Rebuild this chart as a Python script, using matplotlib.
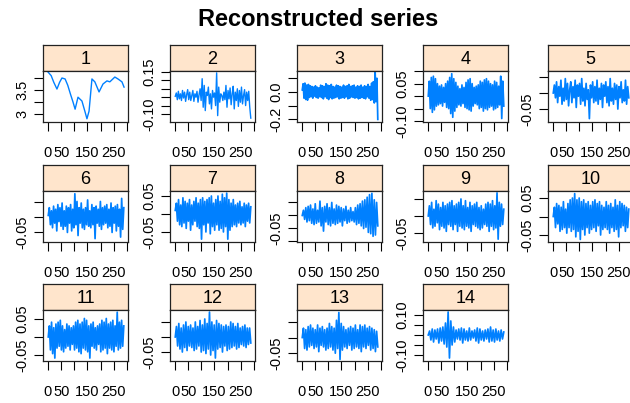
import numpy as np
import matplotlib.pyplot as plt

plt.rcParams['font.family'] = ['Liberation Sans', 'DejaVu Sans']

# component 1 (trend)
t1 = [0, 12, 22, 34, 44, 53, 65, 75, 85, 95, 103, 114, 129, 141, 148, 156, 167, 178, 194, 209, 224, 235, 254, 266, 281, 289]
s1 = [3.875, 3.80, 3.66, 3.52, 3.66, 3.75, 3.73, 3.60, 3.42, 3.25, 3.10, 3.35, 3.27, 3.04, 2.90, 3.06, 3.73, 3.67, 3.46, 3.625, 3.69, 3.67, 3.77, 3.73, 3.67, 3.56]

# components 2..14, values in thousandths
s2 = [5, 25, -15, 35, -10, 20, -20, 40, -5, 30, -25, 15, 45, -15, 30, -20, 10, 40, -25, 20, 0, 35, -30, 15, 50, -20, 110, -60, 70, -80, 30, 10, 60, -40, 20, -70, 40, 0, 25, -50, 145, -110, 60, -30, 20, 10, -20, 30, -15, 70, -60, 40, -10, 55, -45, 20, 65, -70, 30, -20, 50, -55, 40, -30, 60, -40, 10, 45, -50, 30, -20, 35, -60, -125]
s3 = [15, 60, -45, 65, -55, 50, -60, 55, -40, 45, -35, 40, -45, 35, -30, 45, -40, 35, -45, 30, -35, 50, -40, 45, -50, 40, -35, 60, -45, 50, -55, 45, -40, 55, -50, 40, -45, 35, -40, 50, -35, 45, -50, 40, -45, 35, -40, 50, -45, 40, -35, 45, -50, 55, -45, 40, -35, 45, -40, 50, -45, 35, -40, 45, -50, 40, -45, 50, -40, 35, -45, 45, -50, 40, -35, 55, -45, 40, -60, 65, -55, 75, -80, 146, -70, 100, -200]
s4 = [0, 60, -50, 75, -65, 80, -55, 70, -40, 50, -35, 40, -30, 45, -40, 35, -25, 50, -45, 60, -50, 75, -70, 90, -85, 70, -60, 55, -45, 40, -35, 30, -40, 45, -30, 35, -45, 55, -50, 65, -55, 70, -60, 50, -40, 35, -30, 40, -35, 45, -50, 60, -45, 55, -60, 65, -50, 70, -55, 60, -45, 50, -40, 45, -55, 60, -50, 55, -45, 40, -35, 80, -90, 60, -40]
s5 = [0, 25, -15, 35, -30, 20, -10, 40, -35, 15, -25, 45, -20, 30, -40, 10, 35, -30, 20, -15, 40, -45, 25, -10, 30, -35, 45, -25, 15, -40, 30, -20, 10, -80, 25, -15, 35, -30, 20, -25, 40, -35, 15, -20, 30, -45, 25, -10, 35, -30, 20, -40, 45, -25, 15, -35, 30, -20, 25, -50, 20, -15, 35, -30, 10, -25, 40, -35, 20, -15]
s6 = [5, 30, -25, 20, -35, 35, -20, 25, -45, 40, -15, 30, -30, 45, -40, 20, -30, 35, -50, 30, -20, 40, -45, 25, -35, 75, -25, 50, -60, 30, -20, 45, -35, 25, -40, 30, -25, 55, -30, 20, -35, 40, -25, 30, -70, 35, -20, 25, -30, 50, -40, 30, -25, 35, -20, 40, -35, 25, -30, 45, -50, 30, -20, 35, -45, 40, -30, 25, -65, 60, -40, 30]
s7 = [10, 30, -20, 40, -30, 25, -35, 45, -25, 35, -40, 30, -20, 40, -45, 25, -30, 35, -20, 45, -35, 30, -40, 40, -70, 45, -30, 35, -50, 40, -25, 45, -55, 50, -35, 30, -45, 40, -30, 50, -45, 35, -40, 55, -50, 45, -35, 58, -70, 40, -45, 30, -35, 40, -30, 25, -35, 30, -25, 35, -30, 20, -25, 30, -35, 25, -20, 30, -25, 20]
s8 = [0, 20, -15, 30, -25, 35, -20, 40, -30, 25, -35, 45, -30, 20, -25, 55, -40, 30, -60, 35, -25, 45, -35, 30, -40, 50, -30, 25, -35, 40, -30, 35, -25, 30, -40, 25, -20, 35, -30, 20, -25, 30, -20, 15, -25, 30, -35, 40, -30, 45, -40, 55, -50, 60, -45, 70, -65, 80, -70, 85, -80, 60, -75, 50, -40]
s9 = [0, 30, -25, 40, -35, 20, -30, 45, -20, 35, -40, 25, -30, 40, -35, 30, -45, 35, -25, 40, -30, 45, -40, 30, -25, 35, -45, 40, -30, 50, -35, 30, -40, 45, -30, 25, -35, 40, -45, 30, -25, 35, -30, 40, -35, 25, -40, 30, -35, 20, -25, 35, -30, 40, -45, 35, -30, 45, -40, 30, -35, 68, -68, 40, -30, 35, -25, 20]
s10 = [0, 25, -30, 35, -20, 30, -40, 25, -35, 40, -30, 20, -45, 35, -30, 45, -40, 50, -35, 62, -55, 45, -40, 50, -62, 40, -35, 45, -50, 35, -30, 40, -45, 30, -35, 40, -30, 45, -40, 35, -25, 40, -50, 30, -35, 25, -30, 40, -35, 30, -45, 35, -30, 25, -40, 45, -35, 30, -55, 40, -30, 35, -25, 30, -40, 25, -30, 20]
s11 = [0, 30, -35, 40, -45, 25, -57, 35, -30, 40, -25, 45, -35, 30, -40, 20, -30, 35, -25, 30, -35, 25, -20, 30, -35, 40, -30, 45, -40, 35, -45, 40, -30, 50, -35, 45, -40, 30, -57, 35, -25, 40, -30, 25, -35, 30, -20, 35, -40, 45, -35, 40, -30, 50, -45, 35, -30, 40, -35, 45, -40, 30, -25, 67, -35, 40, -30, 45, -25, 30]
s12 = [0, 35, -30, 45, -40, 30, -50, 40, -35, 50, -45, 35, -30, 40, -35, 30, -45, 50, -40, 35, -30, 55, -50, 40, -45, 60, -55, 45, -40, 83, -60, 50, -45, 40, -70, 55, -40, 45, -35, 40, -50, 35, -30, 40, -45, 35, -40, 50, -35, 45, -30, 35, -40, 45, -35, 30, -25, 35, -30, 40, -35, 30, -25, 30, -20]
s13 = [0, 30, -35, 25, -40, 35, -30, 40, -25, 30, -35, 25, -30, 40, -45, 30, -25, 35, -30, 25, -40, 30, -35, 45, -30, 35, -40, 30, -50, 55, -35, 80, -70, 45, -40, 35, -30, 25, -35, 30, -25, 35, -40, 30, -35, 40, -30, 25, -35, 40, -45, 35, -30, 40, -35, 30, -25, 35, -40, 30, -35, 25, -45, 20, -30]
s14 = [0, 20, -25, 30, -35, 25, -20, 30, -40, 35, -30, 40, -45, 60, -60, 115, -115, 70, -50, 40, -35, 25, -20, 30, -25, 35, -40, 30, -25, 20, -30, 35, -25, 20, -15, 25, -30, 35, -40, 30, -25, 20, -30, 25, -20, 30, -35, 40, -30, 25, -35, 30, -25, 20, -30, 25, -20, 15]

noisy = [s2, s3, s4, s5, s6, s7, s8, s9, s10, s11, s12, s13, s14]

# y axis of each panel: limits, ticks, shown labels
ylims = [(2.833, 3.896), (-0.148, 0.156), (-0.219, 0.153), (-0.104, 0.101), (-0.0906, 0.0688),
         (-0.081, 0.084), (-0.078, 0.064), (-0.102, 0.094), (-0.0764, 0.0735), (-0.069, 0.069),
         (-0.065, 0.073), (-0.080, 0.090), (-0.075, 0.088), (-0.130, 0.125)]
yticks = [[3.0, 3.25, 3.5, 3.75], [-0.10, -0.05, 0, 0.05, 0.10, 0.15], [-0.2, -0.1, 0.0, 0.1],
          [-0.10, -0.05, 0, 0.05, 0.10], [-0.05, 0, 0.05],
          [-0.05, 0, 0.05], [-0.05, 0, 0.05], [-0.10, -0.05, 0, 0.05], [-0.05, 0, 0.05], [-0.05, 0, 0.05],
          [-0.05, 0, 0.05], [-0.05, 0, 0.05], [-0.05, 0, 0.05], [-0.10, -0.05, 0, 0.05, 0.10]]
ylabels = [['3', '', '3.5', ''], ['-0.10', '', '', '', '', '0.15'], ['-0.2', '', '0.0', ''],
           ['-0.10', '', '', '0.05', ''], ['-0.05', '', ''],
           ['-0.05', '', ''], ['-0.05', '', '0.05'], ['', '-0.05', '', ''], ['-0.05', '', ''], ['-0.05', '', '0.05'],
           ['-0.05', '', '0.05'], ['-0.05', '', ''], ['-0.05', '', ''], ['-0.10', '', '', '', '0.10']]
xticks = [0, 50, 100, 150, 200, 250, 300]
xlabels = ['0', '50', '', '150', '', '250', '']

W, H = 630, 403
fig = plt.figure(figsize=(6.3, 4.03), dpi=100)
col_x = [43, 170, 297, 423, 548]
row_y = [45, 165, 284]
pw, sh, ph = 85, 26, 51

for i in range(14):
    r, c = divmod(i, 5)
    x0, y0 = col_x[c], row_y[r]

    # strip
    sax = fig.add_axes([x0 / W, 1 - (y0 + sh) / H, pw / W, sh / H])
    sax.set_facecolor('#ffe5cc')
    sax.set_xticks([])
    sax.set_yticks([])
    for sp in sax.spines.values():
        sp.set_linewidth(0.9)
        sp.set_color('#222222')
    sax.text(0.5, 0.45, str(i + 1), ha='center', va='center', fontsize=13, transform=sax.transAxes)

    # panel
    ax = fig.add_axes([x0 / W, 1 - (y0 + sh + ph) / H, pw / W, ph / H])
    if i == 0:
        ax.plot(t1, s1, color='#0080ff', lw=1.0)
    else:
        vals = np.array(noisy[i - 1]) / 1000.0
        xs = np.linspace(1, 288, len(vals))
        ax.plot(xs, vals, color='#0080ff', lw=1.0 if i == 1 else 1.25)
    ax.set_xlim(-19, 304)
    ax.set_ylim(*ylims[i])
    ax.set_xticks(xticks, xlabels)
    ax.set_yticks(yticks[i], ylabels[i])
    for sp in ax.spines.values():
        sp.set_linewidth(0.9)
        sp.set_color('#222222')
    ax.tick_params(axis='x', direction='out', length=6.5, width=0.8, labelsize=10.5, pad=11)
    ax.tick_params(axis='y', direction='out', length=6.5, width=0.8, labelsize=10.5, pad=3, labelrotation=90)
    for t in ax.get_yticklabels():
        t.set_va('center')

fig.text(318 / W, 1 - 19 / H, 'Reconstructed series', ha='center', va='center',
         fontsize=17, fontweight='bold')

fig.savefig('out.png', dpi=100)
